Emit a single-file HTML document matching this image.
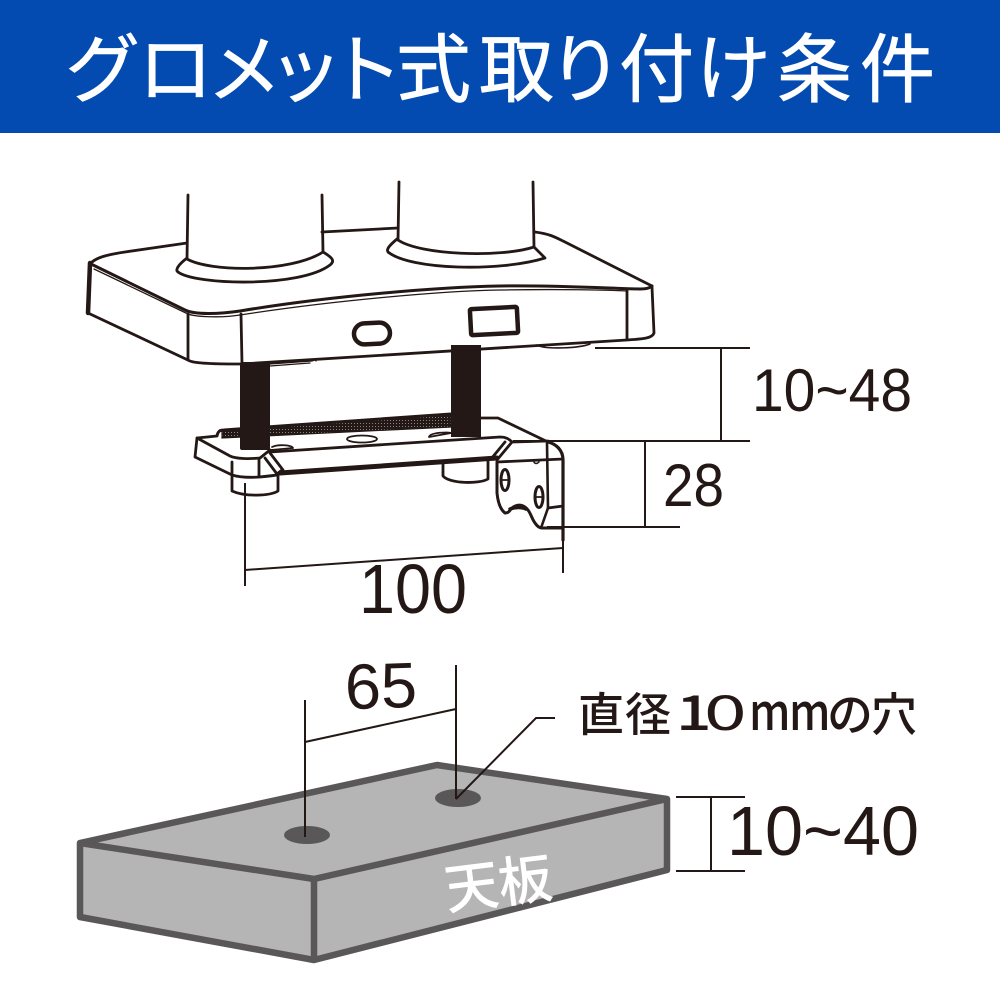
<!DOCTYPE html>
<html><head><meta charset="utf-8"><style>html,body{margin:0;padding:0;background:#fff}svg{display:block}
text{font-family:"Liberation Sans","Noto Sans CJK JP",sans-serif}
.j{font-family:"Noto Sans CJK JP",sans-serif}</style></head><body>
<svg width="1000" height="1000" viewBox="0 0 1000 1000" xmlns="http://www.w3.org/2000/svg">
<defs><pattern id="d" width="3" height="3" patternUnits="userSpaceOnUse"><rect width="3" height="3" fill="#231815"/><rect width="1" height="1" fill="#8a8584"/></pattern></defs>
<rect width="1000" height="133" fill="#034bb0"/>
<text class="j" y="96" font-size="75" font-weight="400" fill="#fff" stroke="#fff" stroke-width="0.700" x="65 138 207 268 328 396 479 548 619 696 777 860">グロメット式取り付け条件</text>

<g fill="none" stroke="#231815" stroke-width="2.800" stroke-linecap="round" stroke-linejoin="round">
<!-- base -->
<path d="M187 243L125 252C105 255 95 258 90 264"/>
<path d="M322 232L398 228"/>
<path d="M535 232C550 234 555 237 565 242L652 286"/>
<path d="M90 263L88 313" stroke-width="4.500"/>
<path d="M88 313L190 361C197 364 225 364 241 364L627 340C640 339 652 339 654 333L652 287"/>
<path d="M91 264L185 310C195 315 220 314 240 311C330 296 440 287 500 286C560 285 620 289 640 289C646 289 650 288 652 286" stroke-width="3"/>
<path d="M94 269L188 314C196 317 222 318 240 315C330 301 440 291 500 290C560 289 610 290 626 291" stroke-width="1.300"/>
<path d="M188 314L188 360M241 314L242 364M627 290L627 339"/>
<path d="M270 364L312 361C316 360 315 358 316 361M270 366L310 363" stroke-width="1.300"/>
<path d="M537 345C545 350 580 348 590 344" stroke-width="1.600"/>
<!-- pillars -->
<path d="M188 195L187 259M322 195L323 252M399 182L398 240M533 182L534 247"/>
<path d="M187 259C210 272 290 273 323 252"/>
<path d="M187 258C178 265 175 270 178 272C195 285 300 288 330 265C335 261 333 258 323 252"/>
<path d="M398 240C420 255 500 258 534 247"/>
<path d="M397 239C390 245 386 249 388 252C410 270 500 272 545 258L534 247"/>
<!-- ports -->
<rect x="354" y="323" width="36" height="21" rx="10.500" stroke-width="4.500" transform="rotate(-3 372 334)"/>
<rect x="470.500" y="308" width="47" height="26" rx="1.500" stroke-width="4.500" transform="rotate(-3 494 321)"/>
</g>

<!-- plate back band -->
<path d="M222 431L451 414V427L222 438Z" fill="url(#d)" stroke="#231815" stroke-width="1.200"/>
<path d="M217 436C218 431 220 430 224 430L451 414" fill="none" stroke="#231815" stroke-width="3"/>
<!-- bolts -->
<rect x="240" y="362" width="30" height="88" rx="2" fill="#231815"/>
<rect x="451" y="345" width="30" height="92" fill="#231815"/>

<g fill="none" stroke="#231815" stroke-width="2.800" stroke-linecap="round" stroke-linejoin="round">
<!-- plate -->
<path d="M217 436L197 438L195 457L232 475"/>
<path d="M197 438L230 456C236 459 250 459 260 458L270 450"/>
<path d="M232 462L232 475C245 479 265 477 277 475L259 477M259 460L259 477"/>
<path d="M270 452L500 437C506 437 509 439 512 442L497 460"/>
<path d="M265 458L277 474M270 453L283 470M277 474L282 470M505 442L491 459"/>
<path d="M280 473L497 458" stroke-width="5"/>
<path d="M272 447C278 444 292 445 293 448L271 450" stroke-width="1.800"/>
<ellipse cx="362" cy="439" rx="15" ry="3.500" stroke-width="1.800"/>
<path d="M429 437C430 432 450 432 451 433L429 437Z" stroke-width="1.800"/>
<path d="M481 418L498 418L548 442"/>
<path d="M513 442L548 441"/>
<!-- feet -->
<path d="M232 477V491C245 497 270 496 278 491V475"/>
<path d="M443 464V476C450 484 480 484 488 479V460"/>
<!-- bracket -->
<path d="M548 442C556 444 563 450 563 460V540" stroke-width="3.200"/>
<path d="M547 443L548 508L541 528" stroke-width="2.600"/>
<path d="M497 462L563 459M548 508L563 506"/>
<path d="M497 462V493C498 503 501 510 505 513C509 513 509 511 512 508C518 503 524 505 528 510C531 514 532 519 535 523C537 526 539 528 542 528L563 528" stroke-width="3"/>
<path d="M510 509C515 507 522 507 526 509" stroke-width="3.500"/>
<path d="M534 462C535 464 537 464 539 462" stroke-width="1.500"/>
<ellipse cx="505" cy="480" rx="4" ry="10.500" stroke-width="3"/><path d="M501 480H509" stroke-width="1.800"/>
<ellipse cx="539" cy="497" rx="4" ry="10.500" stroke-width="3"/><path d="M535 497H543" stroke-width="1.800"/>
</g>

<!-- dimensions -->
<g fill="none" stroke="#231815" stroke-width="2">
<path d="M595 348H750M721 348V441M513 441H750M645 441V527M547 527H680"/>
<path d="M245 483V586M563 524V573M245 570L563 548"/>
</g>

<!-- table -->
<g stroke="#595757" stroke-width="6.500" stroke-linejoin="round" fill="#b5b5b6">
<path d="M80 843L437 765L667 799L667 870L314 960L80 917Z"/>
<path d="M80 843L314 879L667 799" fill="none"/>
<path d="M314 879V960" fill="none"/>
</g>
<ellipse cx="307" cy="835" rx="23" ry="9" fill="#595757"/>
<ellipse cx="458" cy="798" rx="23" ry="9" fill="#595757"/>
<g fill="none" stroke="#231815" stroke-width="2">
<path d="M305 700V837M456 665V799M305 742L456 709M456 799L536 718H555"/>
<path d="M676 797H745M676 871H745M711 797V871"/>
</g>

<g fill="#231815">
<text x="752" y="411" font-size="60" textLength="160" lengthAdjust="spacingAndGlyphs">10~48</text>
<text x="663" y="506" font-size="60" textLength="61" lengthAdjust="spacingAndGlyphs">28</text>
<text x="359" y="613" font-size="70" textLength="108" lengthAdjust="spacingAndGlyphs">100</text>
<text x="345" y="708" font-size="64" textLength="72" lengthAdjust="spacingAndGlyphs" transform="rotate(-2 380 690)">65</text>
<text x="727" y="855" font-size="70" textLength="192" lengthAdjust="spacingAndGlyphs">10~40</text>
<text class="j" x="578 625" y="731" font-size="46" font-weight="500">直径</text>
<text class="j" transform="translate(676,730) scale(1.3,1)" font-size="48" font-weight="500">1</text>
<text class="j" transform="translate(704,730) scale(1.6,1)" font-size="48" font-weight="400">0</text>
<text class="j" transform="translate(749,730) scale(1,1.15)" font-size="44" font-weight="500">m</text>
<text class="j" transform="translate(789,730) scale(1,1.15)" font-size="44" font-weight="500">m</text>
<text class="j" x="827 871" y="731" font-size="46" font-weight="500">の穴</text>
</g>
<text class="j" x="444" y="903" font-size="54" font-weight="500" fill="#fff" textLength="108" transform="rotate(-7 498 880)">天板</text>
</svg>
</body></html>
